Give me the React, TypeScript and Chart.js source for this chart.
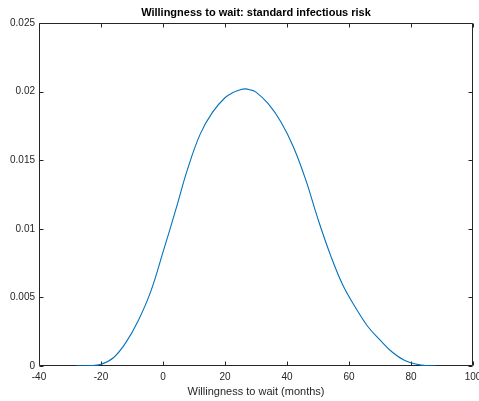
import React, { useEffect, useRef } from "react";
import { Chart, registerables } from "chart.js";

Chart.register(...registerables);

const chartTitle = "Willingness to wait: standard infectious risk";
const xAxisTitle = "Willingness to wait (months)";

const waitMonths = [-28, -24, -20, -16, -12, -8, -4, 0, 4, 8, 12, 16, 20, 23, 25, 26.5, 28, 30, 34, 38, 42, 46, 50, 54, 58, 62, 66, 70, 74, 78, 82, 86, 88];
const densityValues = [0, 0.00003, 0.00012, 0.0006, 0.0017, 0.0033, 0.0054, 0.0083, 0.0113, 0.0144, 0.0169, 0.0185, 0.01955, 0.01998, 0.02014, 0.0202, 0.02014, 0.01996, 0.0191, 0.0178, 0.016, 0.0136, 0.0107, 0.0081, 0.0059, 0.0043, 0.0029, 0.0019, 0.001, 0.0004, 0.00012, 0.00002, 0];

const xTicks = [-40, -20, 0, 20, 40, 60, 80, 100];
const yTicks = [0, 0.005, 0.01, 0.015, 0.02, 0.025];
const yTickLabels = ["0", "0.005", "0.01", "0.015", "0.02", "0.025"];

const FONT = "'Liberation Sans', Arial, Helvetica, sans-serif";
const AXIS_COLOR = "#262626";

const boxPlugin = {
  id: "matlabBox",
  beforeDatasetsDraw(chart: any) {
    const { ctx, chartArea, scales } = chart;
    const { left, right, top, bottom } = chartArea;
    const L = Math.round(left) + 0.5;
    const R = Math.round(right) - 0.5;
    const T = Math.round(top) + 0.5;
    const B = Math.round(bottom) - 0.5;
    const tl = 4;
    ctx.save();
    ctx.strokeStyle = AXIS_COLOR;
    ctx.lineWidth = 1;
    ctx.beginPath();
    ctx.moveTo(L, T);
    ctx.lineTo(R, T);
    ctx.lineTo(R, B);
    ctx.lineTo(L, B);
    ctx.closePath();
    ctx.stroke();
    ctx.beginPath();
    for (const v of xTicks) {
      const px = Math.round(scales.x.getPixelForValue(v)) + 0.5;
      ctx.moveTo(px, B);
      ctx.lineTo(px, B - tl);
      ctx.moveTo(px, T);
      ctx.lineTo(px, T + tl);
    }
    for (const v of yTicks) {
      const py = Math.round(scales.y.getPixelForValue(v)) + 0.5;
      ctx.moveTo(L, py);
      ctx.lineTo(L + tl, py);
      ctx.moveTo(R, py);
      ctx.lineTo(R - tl, py);
    }
    ctx.stroke();
    ctx.restore();
  },
  afterDraw(chart: any) {
    const { ctx, chartArea } = chart;
    ctx.save();
    ctx.fillStyle = "#000000";
    ctx.font = `bold 11px ${FONT}`;
    ctx.textAlign = "center";
    ctx.textBaseline = "middle";
    ctx.fillText(chartTitle, (chartArea.left + chartArea.right) / 2, 13);
    ctx.restore();
  },
};

export default function App() {
  const ref = useRef<HTMLCanvasElement | null>(null);
  useEffect(() => {
    if (!ref.current) return;
    const chart = new Chart(ref.current, {
      type: "line",
      data: {
        datasets: [
          {
            data: waitMonths.map((x, i) => ({ x, y: densityValues[i] })),
            borderColor: "#0072BD",
            borderWidth: 1.1,
            pointRadius: 0,
            fill: false,
            tension: 0.4,
          },
        ],
      },
      options: {
        responsive: false,
        animation: false,
        layout: { padding: { left: 0, right: 6, top: 23, bottom: 0 } },
        plugins: {
          legend: { display: false },
          title: { display: false },
          tooltip: { enabled: false },
        },
        scales: {
          x: {
            type: "linear",
            min: -40,
            max: 100,
            grid: { display: false, drawTicks: false },
            border: { display: false },
            afterBuildTicks(scale: any) {
              scale.ticks = xTicks.map((v) => ({ value: v }));
            },
            afterFit(scale: any) {
              scale.height = 35;
              scale.paddingLeft = 0;
              scale.paddingRight = 0;
            },
            ticks: {
              autoSkip: false,
              maxRotation: 0,
              padding: 5,
              color: AXIS_COLOR,
              font: { family: FONT, size: 10 },
              callback: (v: any) => String(v),
            },
            title: {
              display: true,
              text: xAxisTitle,
              color: AXIS_COLOR,
              font: { family: FONT, size: 11 },
              padding: { top: 0, bottom: 2 },
            },
          },
          y: {
            type: "linear",
            min: 0,
            max: 0.025,
            grid: { display: false, drawTicks: false },
            border: { display: false },
            afterBuildTicks(scale: any) {
              scale.ticks = yTicks.map((v) => ({ value: v }));
            },
            afterFit(scale: any) {
              scale.width = 39;
              scale.paddingTop = 0;
              scale.paddingBottom = 0;
            },
            ticks: {
              autoSkip: false,
              padding: 4,
              color: AXIS_COLOR,
              font: { family: FONT, size: 10 },
              callback: (_v: any, i: number) => yTickLabels[i],
            },
          },
        },
      },
      plugins: [boxPlugin],
    } as any);
    return () => chart.destroy();
  }, []);
  return (
    <div style={{ position: "absolute", left: 0, top: 0, width: 479, height: 401, background: "#fff" }}>
      <canvas ref={ref} width={479} height={401} />
    </div>
  );
}
